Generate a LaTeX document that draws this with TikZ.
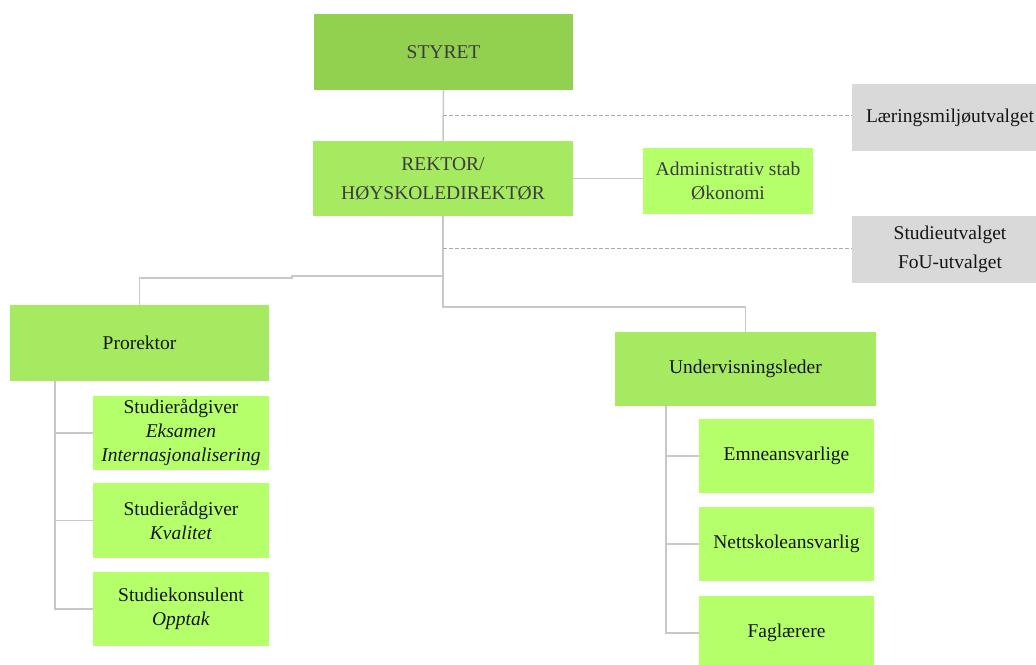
\documentclass[tikz,border=0pt]{standalone}
\usepackage{fontspec}
\setmainfont{Liberation Serif}
\definecolor{cTop}{HTML}{92D050}
\definecolor{cMid}{HTML}{A6EA62}
\definecolor{cSub}{HTML}{B5FF6B}
\definecolor{cGray}{HTML}{D9D9D9}
\definecolor{cLine}{HTML}{C8C8C8}
\definecolor{cDash}{HTML}{A8A8A8}
\definecolor{cTxtA}{HTML}{3C3C3C}
\definecolor{cTxtB}{HTML}{151515}
\begin{document}
\begin{tikzpicture}[x=1pt,y=-1pt,
  boxbase/.style={inner sep=0pt,outer sep=0pt,align=center,
    font=\fontsize{19.5}{24}\selectfont},
  topbox/.style={boxbase,fill=cTop,text=cTxtA},
  midbox/.style={boxbase,fill=cMid},
  subbox/.style={boxbase,fill=cSub,text=cTxtB},
  graybox/.style={boxbase,fill=cGray,text=cTxtB},
  conn/.style={draw=cLine,line width=1.5pt},
  dashline/.style={draw=cDash,line width=1pt,dash pattern=on 4pt off 2pt}]
\useasboundingbox (0,0) rectangle (1036,664);
\fill[white] (0,0) rectangle (1036,664);

\node[topbox,minimum width=259,minimum height=76] (styret) at (443.5,52) {STYRET};
\node[midbox,text=cTxtA,minimum width=260,minimum height=75,font=\fontsize{19.5}{29}\selectfont] (rektor) at (443,178.5) {REKTOR/\\HØYSKOLEDIREKTØR};
\node[subbox,text=cTxtA,minimum width=170,minimum height=66] (admin) at (728,181) {Administrativ stab\\Økonomi};
\node[graybox,minimum width=196,minimum height=67] (laer) at (950,117.5) {Læringsmiljøutvalget};
\node[graybox,minimum width=196,minimum height=67,font=\fontsize{19.5}{29}\selectfont] (studu) at (950,249.5) {Studieutvalget\\FoU-utvalget};

\node[midbox,text=cTxtB,minimum width=259,minimum height=76] (pro) at (139.5,343) {Prorektor};
\node[subbox,minimum width=176,minimum height=74] (s1) at (181,433) {Studierådgiver\\\textit{Eksamen}\\\textit{Internasjonalisering}};
\node[subbox,minimum width=176,minimum height=75] (s2) at (181,520.5) {Studierådgiver\\\textit{Kvalitet}};
\node[subbox,minimum width=176,minimum height=74] (s3) at (181,609) {Studiekonsulent\\\textit{Opptak}};

\node[midbox,text=cTxtB,minimum width=261,minimum height=74] (und) at (745.5,369) {Undervisningsleder};
\node[subbox,minimum width=175,minimum height=74] (r1) at (786.5,456) {Emneansvarlige};
\node[subbox,minimum width=175,minimum height=74] (r2) at (786.5,544) {Nettskoleansvarlig};
\node[subbox,minimum width=175,minimum height=74] (r3) at (786.5,633) {Faglærere};

% junction coordinates
\coordinate (d1) at (443,115);
\coordinate (d2) at (443,248);
\coordinate (jl) at (443,276);
\coordinate (js) at (292,278);
\coordinate (jr) at (443,307);
\coordinate (pl) at (55,381);
\coordinate (ul) at (666,406);

% connectors
\draw[conn] (styret.south) -- (rektor.north);
\draw[conn] (rektor.east) -- (rektor.east -| admin.west);
\draw[conn] (rektor.south) -- (jr) -| (und.north);
\draw[conn] (jl) -| (js) -| (pro.north);
\draw[dashline] (d1) -- (d1 -| laer.west);
\draw[dashline] (d2) -- (d2 -| studu.west);

\draw[conn] (pl) |- (s3.west);
\draw[conn] (pl |- s1.west) -- (s1.west);
\draw[conn] (pl |- s2.west) -- (s2.west);

\draw[conn] (ul) |- (r3.west);
\draw[conn] (ul |- r1.west) -- (r1.west);
\draw[conn] (ul |- r2.west) -- (r2.west);
\end{tikzpicture}
\end{document}
